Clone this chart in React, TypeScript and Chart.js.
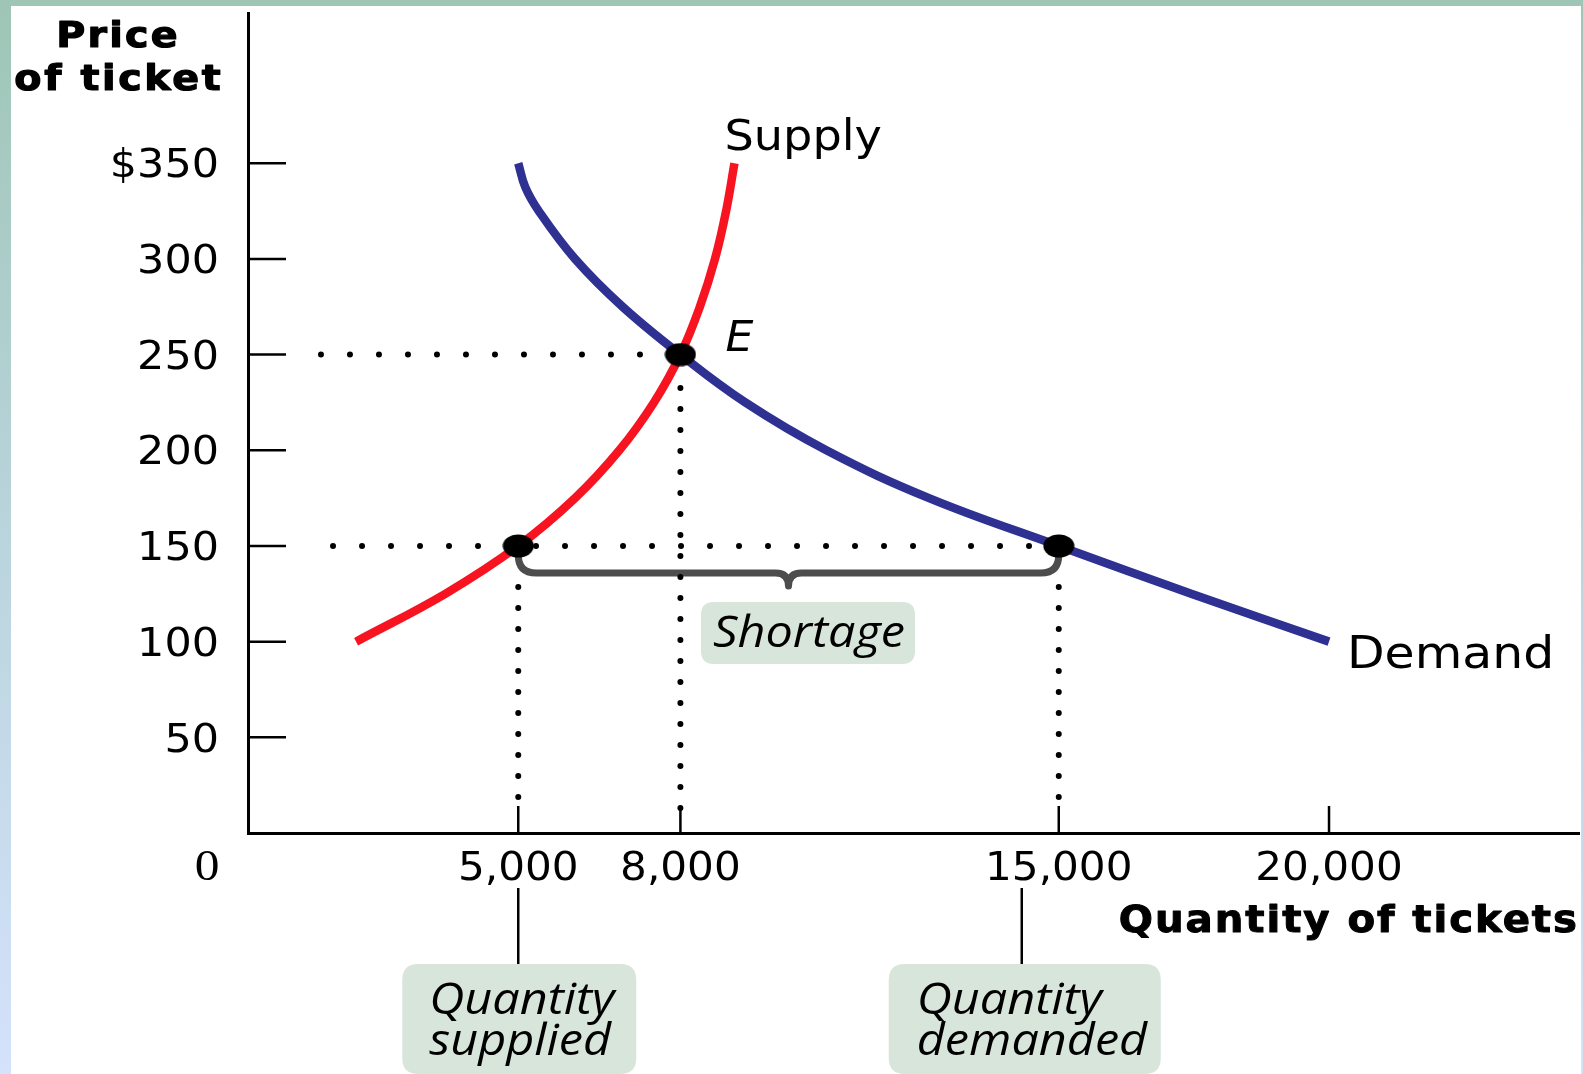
import React, { useEffect, useRef } from 'react';
import { Chart, registerables } from 'chart.js';

Chart.register(...registerables);

// ---------- data ----------
const yTickValues = [50, 100, 150, 200, 250, 300, 350];
const yTickLabels = ['50', '100', '150', '200', '250', '300', '$350'];
const xTickValues = [5000, 8000, 15000, 20000];
const xTickLabels = ['5,000', '8,000', '15,000', '20,000'];
const originLabel = '0';

const xMax = 24625;
const yMax = 428.5;

const supplyQty = [2000, 3650, 5000, 6050, 6870, 7510, 8000, 8360, 8640, 8845, 9000];
const supplyPrice = [100, 125, 150, 175, 200, 225, 250, 275, 300, 325, 350];

const demandQty = [5000, 5130, 5380, 6050, 6930, 8000, 9200, 10700, 12600, 15000, 17450, 20000];
const demandPrice = [350, 337.5, 325, 300, 275, 250, 225, 200, 175, 150, 125, 100];

const markedQty = [5000, 8000, 15000];
const markedPrice = [150, 250, 150];

// dotted guide lines (data units)
const hGuideFromQty = [1350, 1573];
const hGuideToQty = [8000, 15000];
const hGuidePrice = [250, 150];
const vGuideQty = [5000, 8000, 15000];
const vGuideFromPrice = [18.8, 13.1, 18.8];
const vGuideToPrice = [128.6, 232.6, 128.6];

const yAxisTitle = ['Price', 'of ticket'];
const xAxisTitle = 'Quantity of tickets';
const supplyLabel = 'Supply';
const demandLabel = 'Demand';
const eqLabel = 'E';
const shortageLabel = 'Shortage';
const qsLabel = ['Quantity', 'supplied'];
const qdLabel = ['Quantity', 'demanded'];

// ---------- helpers ----------
type TextOpts = { align?: 'left' | 'center' | 'right'; sx?: number; ls?: number; color?: string; stroke?: number };

function drawText(ctx: CanvasRenderingContext2D, text: string, x: number, y: number, font: string, o: TextOpts = {}) {
  const align = o.align || 'left';
  const sx = o.sx ?? 1;
  const ls = o.ls ?? 0;
  ctx.save();
  ctx.font = font;
  (ctx as any).letterSpacing = ls + 'px';
  ctx.textAlign = 'left';
  ctx.textBaseline = 'alphabetic';
  ctx.fillStyle = o.color || '#000';
  const w = (ctx.measureText(text).width - ls) * sx;
  let left = x;
  if (align === 'center') left = x - w / 2;
  else if (align === 'right') left = x - w;
  ctx.translate(left, y);
  ctx.scale(sx, 1);
  ctx.fillText(text, 0, 0);
  if (o.stroke) {
    ctx.strokeStyle = o.color || '#000';
    ctx.lineWidth = o.stroke;
    ctx.lineJoin = 'round';
    ctx.strokeText(text, 0, 0);
  }
  ctx.restore();
}

function roundRectPath(ctx: CanvasRenderingContext2D, x: number, y: number, w: number, h: number, r: number) {
  ctx.beginPath();
  ctx.moveTo(x + r, y);
  ctx.lineTo(x + w - r, y);
  ctx.quadraticCurveTo(x + w, y, x + w, y + r);
  ctx.lineTo(x + w, y + h - r);
  ctx.quadraticCurveTo(x + w, y + h, x + w - r, y + h);
  ctx.lineTo(x + r, y + h);
  ctx.quadraticCurveTo(x, y + h, x, y + h - r);
  ctx.lineTo(x, y + r);
  ctx.quadraticCurveTo(x, y, x + r, y);
  ctx.closePath();
}

const BOX = '#d8e5db';
const TICK_FONT = '39px "DejaVu Sans"';
const ITALIC_FONT = 'italic 43px "Open Sans"';
const ITALIC_SX = 1.13;

const overlayPlugin = {
  id: 'overlay',
  beforeDatasetsDraw(chart: any) {
    const ctx: CanvasRenderingContext2D = chart.ctx;
    const xs = chart.scales.x;
    const ys = chart.scales.y;
    const area = chart.chartArea;
    ctx.save();
    // tick marks
    ctx.strokeStyle = '#000';
    ctx.lineWidth = 2.5;
    yTickValues.forEach((v) => {
      const y = ys.getPixelForValue(v);
      ctx.beginPath();
      ctx.moveTo(area.left, y);
      ctx.lineTo(area.left + 38, y);
      ctx.stroke();
    });
    xTickValues.forEach((v) => {
      const x = xs.getPixelForValue(v);
      ctx.beginPath();
      ctx.moveTo(x, area.bottom);
      ctx.lineTo(x, area.bottom - 27);
      ctx.stroke();
    });

    // brace for shortage
    const xL = xs.getPixelForValue(markedQty[0]);
    const xR = xs.getPixelForValue(markedQty[2]);
    const yP = ys.getPixelForValue(markedPrice[0]);
    const yTop = yP + 10;
    const yLine = yP + 27;
    const mid = (xL + xR) / 2;
    const r = 18;
    const r2 = 13;
    const tip = yLine + 13;
    ctx.strokeStyle = '#4d4d4d';
    ctx.lineWidth = 7;
    ctx.lineCap = 'round';
    ctx.lineJoin = 'round';
    ctx.beginPath();
    ctx.moveTo(xL, yTop);
    ctx.lineTo(xL, yLine - r);
    ctx.quadraticCurveTo(xL, yLine, xL + r, yLine);
    ctx.lineTo(mid - r2, yLine);
    ctx.quadraticCurveTo(mid, yLine, mid, tip);
    ctx.quadraticCurveTo(mid, yLine, mid + r2, yLine);
    ctx.lineTo(xR - r, yLine);
    ctx.quadraticCurveTo(xR, yLine, xR, yLine - r);
    ctx.lineTo(xR, yTop);
    ctx.stroke();

    // shortage box
    const bx = 701;
    const by = yP + 56;
    roundRectPath(ctx, bx, by, 214, 62, 13);
    ctx.fillStyle = BOX;
    ctx.fill();
    ctx.restore();
    drawText(ctx, shortageLabel, bx + 108, by + 45, ITALIC_FONT, { align: 'center', sx: ITALIC_SX });
  },
  afterDraw(chart: any) {
    const ctx: CanvasRenderingContext2D = chart.ctx;
    const xs = chart.scales.x;
    const ys = chart.scales.y;
    const area = chart.chartArea;

    // y tick labels
    yTickValues.forEach((v, i) => {
      const y = ys.getPixelForValue(v);
      drawText(ctx, yTickLabels[i], area.left - 29, y + 14.2, TICK_FONT, { align: 'right', sx: 1.1 });
    });
    // x tick labels
    xTickValues.forEach((v, i) => {
      const x = xs.getPixelForValue(v);
      drawText(ctx, xTickLabels[i], x, area.bottom + 47, TICK_FONT, { align: 'center', sx: 1.08 });
    });
    drawText(ctx, originLabel, area.left - 41, area.bottom + 47, '45px "Liberation Serif"', { align: 'center', sx: 1.1 });

    // axis titles
    const titleFont = 'bold 36px "DejaVu Sans"';
    drawText(ctx, yAxisTitle[0], 117, 47, titleFont, { align: 'center', sx: 1.1, ls: 2, stroke: 1.2 });
    drawText(ctx, yAxisTitle[1], 117.5, 90, titleFont, { align: 'center', sx: 1.1, ls: 2.4, stroke: 1.2 });
    drawText(ctx, xAxisTitle, area.right - 2, area.bottom + 99, 'bold 38px "DejaVu Sans"', {
      align: 'right',
      sx: 1.06,
      ls: 1.8,
      stroke: 1,
    });

    // curve labels
    const sTopX = xs.getPixelForValue(supplyQty[supplyQty.length - 1]);
    const sTopY = ys.getPixelForValue(supplyPrice[supplyPrice.length - 1]);
    drawText(ctx, supplyLabel, sTopX - 10, sTopY - 13, '42px "DejaVu Sans"', { sx: 1.1 });
    const dEndX = xs.getPixelForValue(demandQty[demandQty.length - 1]);
    const dEndY = ys.getPixelForValue(demandPrice[demandPrice.length - 1]);
    drawText(ctx, demandLabel, dEndX + 18, dEndY + 26, '44px "DejaVu Sans"', { sx: 1.11 });
    const eX = xs.getPixelForValue(markedQty[1]);
    const eY = ys.getPixelForValue(markedPrice[1]);
    drawText(ctx, eqLabel, eX + 45, eY - 4, 'italic 42px "DejaVu Sans"', { sx: 1.05 });

    // connectors and bottom boxes
    const qsX = xs.getPixelForValue(markedQty[0]);
    const qdX = xs.getPixelForValue(markedQty[2]) - 37;
    ctx.save();
    ctx.strokeStyle = '#000';
    ctx.lineWidth = 2.5;
    [qsX, qdX].forEach((x) => {
      ctx.beginPath();
      ctx.moveTo(x, area.bottom + 55);
      ctx.lineTo(x, area.bottom + 131);
      ctx.stroke();
    });
    ctx.fillStyle = BOX;
    roundRectPath(ctx, qsX - 116, area.bottom + 131, 234, 110, 16);
    ctx.fill();
    roundRectPath(ctx, qdX - 133, area.bottom + 131, 272, 110, 16);
    ctx.fill();
    ctx.restore();
    drawText(ctx, qsLabel[0], qsX - 89, area.bottom + 181, ITALIC_FONT, { sx: ITALIC_SX });
    drawText(ctx, qsLabel[1], qsX - 89, area.bottom + 222, ITALIC_FONT, { sx: ITALIC_SX });
    drawText(ctx, qdLabel[0], qdX - 105, area.bottom + 181, ITALIC_FONT, { sx: ITALIC_SX });
    drawText(ctx, qdLabel[1], qdX - 105, area.bottom + 222, ITALIC_FONT, { sx: ITALIC_SX });
  },
};

export default function App() {
  const ref = useRef<HTMLCanvasElement | null>(null);

  useEffect(() => {
    if (!ref.current) return;
    const dot = document.createElement('canvas');
    dot.width = 32;
    dot.height = 24;
    const dc = dot.getContext('2d')!;
    dc.beginPath();
    dc.ellipse(16, 12, 15.5, 11.5, 0, 0, Math.PI * 2);
    dc.fillStyle = '#000';
    dc.fill();

    const dotted = (pts: { x: number; y: number }[], gap: number) => ({
      data: pts,
      showLine: true,
      borderColor: '#000',
      borderWidth: 6,
      borderDash: [0, gap],
      borderCapStyle: 'round',
      pointRadius: 0,
      fill: false,
    });

    const datasets: any[] = [
      {
        data: markedQty.map((q, i) => ({ x: q, y: markedPrice[i] })),
        pointStyle: dot,
        pointRadius: 12,
        pointHoverRadius: 12,
        showLine: false,
      },
      {
        data: supplyQty.map((q, i) => ({ x: q, y: supplyPrice[i] })),
        showLine: true,
        borderColor: '#f7131f',
        borderWidth: 8.5,
        pointRadius: 0,
        tension: 0.4,
      },
      {
        data: demandQty.map((q, i) => ({ x: q, y: demandPrice[i] })),
        showLine: true,
        borderColor: '#2e3192',
        borderWidth: 8.5,
        pointRadius: 0,
        tension: 0.4,
      },
      ...hGuidePrice.map((p, i) =>
        dotted([{ x: hGuideFromQty[i], y: p }, { x: hGuideToQty[i], y: p }], 29)
      ),
      ...vGuideQty.map((q, i) =>
        dotted([{ x: q, y: vGuideFromPrice[i] }, { x: q, y: vGuideToPrice[i] }], 21)
      ),
    ];

    const chart = new Chart(ref.current, {
      type: 'scatter',
      data: { datasets },
      options: {
        animation: false,
        responsive: false,
        maintainAspectRatio: false,
        events: [],
        layout: { autoPadding: false, padding: { left: 0, top: 13, right: 4, bottom: 0 } },
        plugins: { legend: { display: false }, tooltip: { enabled: false } },
        scales: {
          x: {
            type: 'linear',
            min: 0,
            max: xMax,
            grid: { display: false, drawTicks: false },
            border: { display: true, color: '#000', width: 3 },
            ticks: { display: false },
            afterFit: (s: any) => {
              s.height = 241;
              s.paddingLeft = 0;
              s.paddingRight = 0;
            },
          },
          y: {
            type: 'linear',
            min: 0,
            max: yMax,
            grid: { display: false, drawTicks: false },
            border: { display: true, color: '#000', width: 3 },
            ticks: { display: false },
            afterFit: (s: any) => {
              s.width = 248;
              s.paddingTop = 0;
              s.paddingBottom = 0;
            },
          },
        },
      } as any,
      plugins: [overlayPlugin],
    });
    return () => chart.destroy();
  }, []);

  const grad = 'linear-gradient(to bottom, #9ec5b5 0%, #b7d3d9 45%, #d4e2fc 100%)';
  return (
    <div
      style={{
        position: 'fixed',
        left: 0,
        top: 0,
        width: 1583,
        height: 1074,
        background: '#fff',
        overflow: 'hidden',
      }}
    >
      <div style={{ position: 'absolute', left: 0, top: 0, width: 11, height: 1074, background: grad }} />
      <div style={{ position: 'absolute', right: 0, top: 0, width: 2, height: 1074, background: grad }} />
      <div style={{ position: 'absolute', left: 0, top: 0, width: 1583, height: 6, background: '#9ec5b5' }} />
      <canvas
        ref={ref}
        width={1583}
        height={1074}
        style={{ position: 'absolute', left: 0, top: 0, width: 1583, height: 1074, display: 'block' }}
      />
    </div>
  );
}
